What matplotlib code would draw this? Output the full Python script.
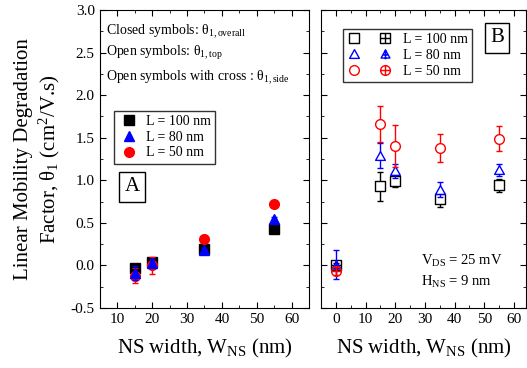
import numpy as np
import matplotlib
matplotlib.use("Agg")
import matplotlib.pyplot as plt
from matplotlib.path import Path
from matplotlib.lines import Line2D
from matplotlib.legend_handler import HandlerTuple

plt.rcParams['font.family'] = ['Liberation Serif', 'DejaVu Serif']
plt.rcParams['mathtext.fontset'] = 'custom'
plt.rcParams['mathtext.rm'] = 'Liberation Serif'
plt.rcParams['mathtext.it'] = 'Liberation Serif:italic'

# ---- data ----
w = [15, 20, 35, 55]
# panel A: theta_1,overall (closed symbols)
a100 = [-0.03, 0.04, 0.19, 0.43]
a100_err = [0.03, 0.03, 0.03, 0.02]
a80 = [-0.09, 0.03, 0.18, 0.55]
a80_err = [0.08, 0.04, 0.03, 0.02]
a50 = [-0.12, 0.0, 0.31, 0.72]
a50_err = [0.09, 0.1, 0.03, 0.03]

# panel B: theta_1,top (open symbols)
t100 = [0.93, 0.99, 0.78, 0.94]
t100_err = [0.17, 0.07, 0.09, 0.08]
t80 = [1.29, 1.11, 0.89, 1.12]
t80_err = [0.15, 0.08, 0.09, 0.07]
t50 = [1.66, 1.40, 1.38, 1.49]
t50_err = [0.21, 0.25, 0.16, 0.15]

# panel B: theta_1,side (crossed symbols, at W = 0)
s_w = [0]
s100 = [0.0]
s100_err = [0.03]
s80 = [0.01]
s80_err = [0.17]
s50 = [-0.06]
s50_err = [0.05]

labels = ["L = 100 nm", "L = 80 nm", "L = 50 nm"]
colors = ["black", "blue", "red"]

# ---- crossed marker paths ----
def crossed(base):
    cross = Path([(-1, 0), (1, 0), (0, -1), (0, 1)],
                 [Path.MOVETO, Path.LINETO, Path.MOVETO, Path.LINETO])
    return Path.make_compound_path(base, cross)

sq = Path([(-1, -1), (1, -1), (1, 1), (-1, 1), (-1, -1)],
          [Path.MOVETO, Path.LINETO, Path.LINETO, Path.LINETO, Path.CLOSEPOLY])
tri = Path([(0, 1), (-1, -0.8), (1, -0.8), (0, 1)],
           [Path.MOVETO, Path.LINETO, Path.LINETO, Path.CLOSEPOLY])
circ = Path.unit_circle()
sq_x = crossed(sq)
tri_x = Path.make_compound_path(tri, Path([(0, -1.1), (0, 1.1), (-0.5, -0.1), (0.5, -0.1)],
                                          [Path.MOVETO, Path.LINETO, Path.MOVETO, Path.LINETO]))
circ_x = crossed(circ)

fig = plt.figure(figsize=(5.27, 3.68), dpi=100)
axA = fig.add_axes([0.189, 0.163, 0.398, 0.81])
axB = fig.add_axes([0.609, 0.163, 0.389, 0.81])

for ax in (axA, axB):
    ax.set_ylim(-0.5, 3.0)
    ax.set_yticks(np.arange(-0.5, 3.01, 0.5))
    ax.set_yticks(np.arange(-0.5, 3.01, 0.25), minor=True)
    ax.tick_params(which='both', direction='in', top=True, right=True, labelsize=11)
    ax.tick_params(which='major', length=4)
    ax.tick_params(which='minor', length=2)
    ax.set_xlabel(r"NS width, W$_{\mathrm{NS}}$ (nm)", fontsize=15, labelpad=8)

# panel A
axA.set_xlim(5, 65)
axA.set_xticks([10, 20, 30, 40, 50, 60])
axA.set_xticks(np.arange(5, 66, 5), minor=True)
axA.set_yticklabels(["-0.5", "0.0", "0.5", "1.0", "1.5", "2.0", "2.5", "3.0"])
ms = ['s', '^', 'o']
zo = [3, 5, 4]  # blue drawn on top, as in the original
handA = []
for y, e, c, m, z in zip([a100, a80, a50], [a100_err, a80_err, a50_err], colors, ms, zo):
    axA.errorbar(w, y, yerr=e, fmt=m, color=c, ms=7, capsize=2.5, elinewidth=1, zorder=z)
    handA.append(Line2D([], [], ls='none', marker=m, color=c, ms=7))
axA.set_ylabel("Linear Mobility Degradation\n" + r"Factor, θ$_{\mathrm{1}}$ (cm$^{\mathrm{2}}$/V.s)",
               fontsize=15, labelpad=6)
legA = axA.legend(handA, labels, loc='upper left', bbox_to_anchor=(0.035, 0.685), fontsize=10,
                  frameon=True, fancybox=False, edgecolor='black', handletextpad=0.4,
                  borderpad=0.3, labelspacing=0.2, handlelength=1.6)
legA.get_frame().set_linewidth(1)
axA.text(0.03, 0.926, r"Closed symbols: θ$_{\mathrm{1,overall}}$", transform=axA.transAxes, fontsize=10, va='center')
axA.text(0.03, 0.856, r"Open symbols: θ$_{\mathrm{1,top}}$", transform=axA.transAxes, fontsize=10, va='center')
axA.text(0.03, 0.772, r"Open symbols with cross : θ$_{\mathrm{1,side}}$", transform=axA.transAxes, fontsize=10, va='center')
axA.text(0.155, 0.406, "A", transform=axA.transAxes, fontsize=15, ha='center', va='center',
         bbox=dict(boxstyle='square,pad=0.25', fc='white', ec='black', lw=1))

# panel B
axB.set_xlim(-5, 64)
axB.set_xticks([0, 10, 20, 30, 40, 50, 60])
axB.set_xticks(np.arange(-5, 65, 5), minor=True)
axB.set_yticklabels([])
open_m = [sq, tri, circ]
cross_m = [sq_x, tri_x, circ_x]
handles = []
for y, e, ys, es, c, mo, mx in zip([t100, t80, t50], [t100_err, t80_err, t50_err],
                                   [s100, s80, s50], [s100_err, s80_err, s50_err],
                                   colors, open_m, cross_m):
    axB.errorbar(s_w, ys, yerr=es, fmt='none', ecolor=c, capsize=2.5, elinewidth=1)
    axB.plot(s_w, ys, ls='none', marker=mx, mfc='none', mec=c, ms=7, mew=1)
    axB.errorbar(w, y, yerr=e, fmt='none', ecolor=c, capsize=2.5, elinewidth=1)
    axB.plot(w, y, ls='none', marker=mo, mfc='white', mec=c, ms=7, mew=1)
    h1 = Line2D([], [], ls='none', marker=mo, mfc='none', mec=c, ms=7, mew=1)
    h2 = Line2D([], [], ls='none', marker=mx, mfc='none', mec=c, ms=7, mew=1)
    handles.append((h1, h2))
legB = axB.legend(handles, labels, loc='upper left', bbox_to_anchor=(0.075, 0.96), fontsize=10,
                  handler_map={tuple: HandlerTuple(ndivide=None, pad=1.2)}, handlelength=3.2,
                  frameon=True, fancybox=False, edgecolor='black', borderpad=0.3,
                  labelspacing=0.2, handletextpad=0.8)
legB.get_frame().set_linewidth(1)
axB.text(0.86, 0.906, "B", transform=axB.transAxes, fontsize=15, ha='center', va='center',
         bbox=dict(boxstyle='square,pad=0.25', fc='white', ec='black', lw=1))
axB.text(0.49, 0.158, r"V$_{\mathrm{DS}}$ = 25 mV", transform=axB.transAxes, fontsize=10.5, va='center')
axB.text(0.49, 0.087, r"H$_{\mathrm{NS}}$ = 9 nm", transform=axB.transAxes, fontsize=10.5, va='center')

fig.savefig("out.png", dpi=100)
